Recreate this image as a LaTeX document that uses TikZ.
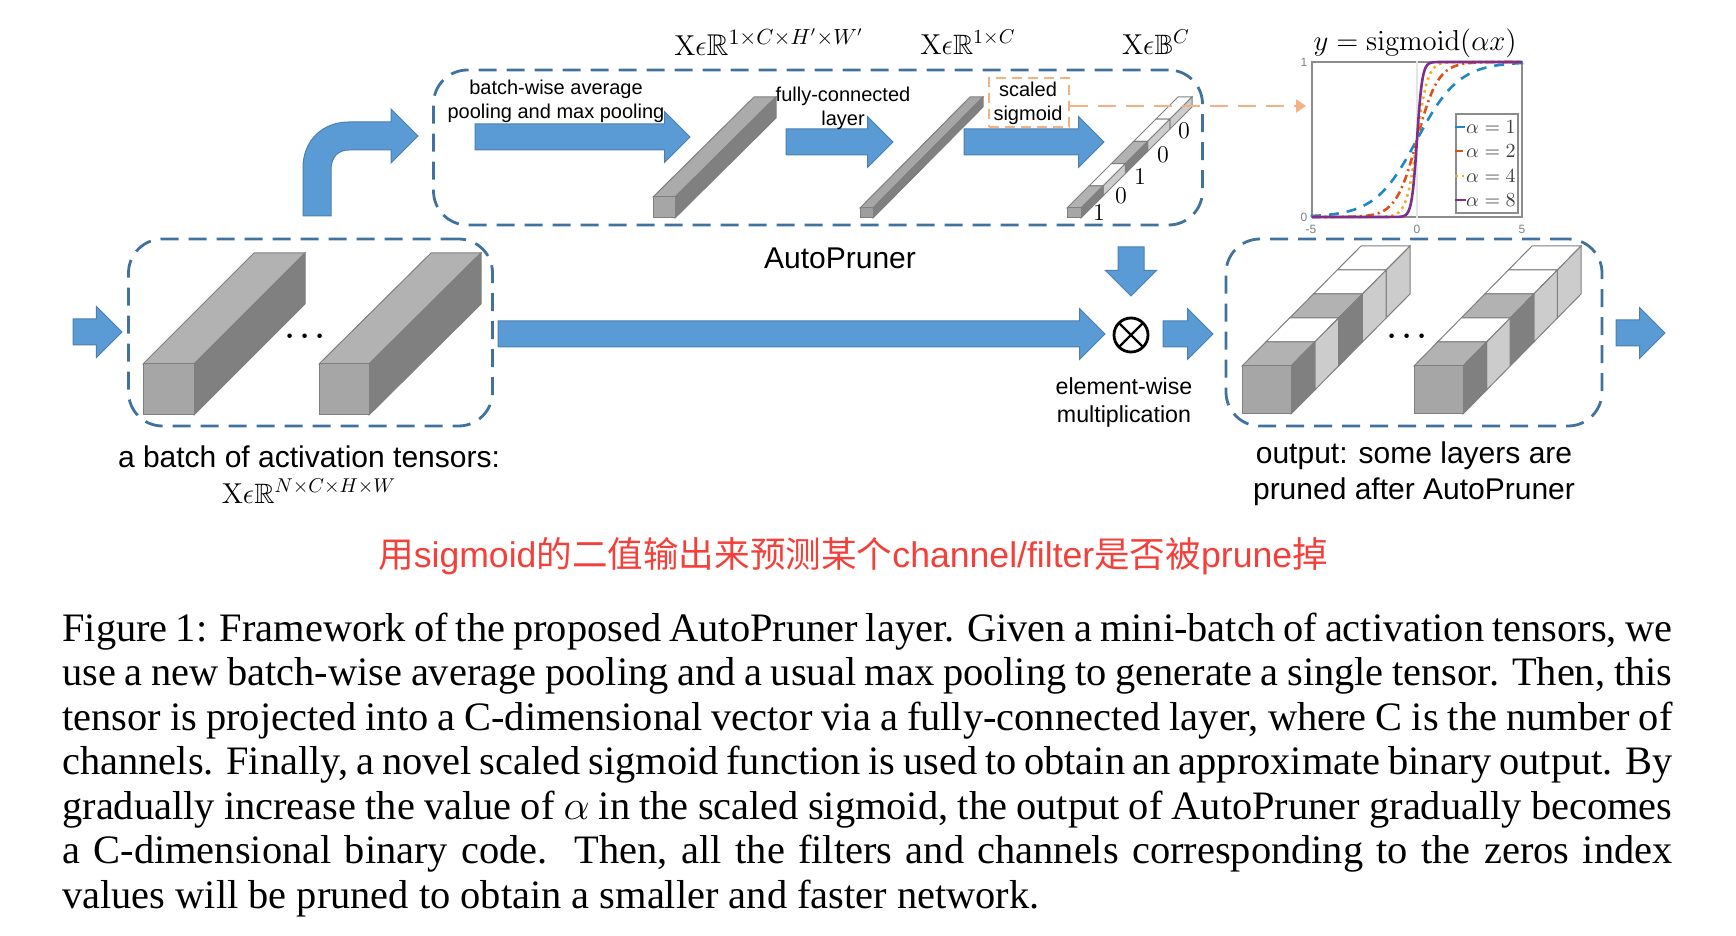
\documentclass[tikz,border=0pt]{standalone}
\usepackage[no-math]{fontspec}
\usepackage{amsmath,amssymb}
\usetikzlibrary{shapes.arrows,arrows.meta}
\setmainfont{Liberation Sans}
\newfontfamily\capfont{Liberation Serif}
\newfontfamily\cjk{Noto Sans CJK SC}
\definecolor{fatblue}{HTML}{5B9BD5}
\definecolor{fatedge}{HTML}{4A7FAE}
\definecolor{dashblue}{HTML}{41719C}
\definecolor{dashorange}{HTML}{F4B183}
\definecolor{edgegray}{HTML}{7F7F7F}
\definecolor{framegray}{HTML}{8C8C8C}
\definecolor{redtext}{HTML}{F4403A}
\definecolor{curveblue}{HTML}{1F86C8}
\definecolor{curvered}{HTML}{D95319}
\definecolor{curveyellow}{HTML}{EDB120}
\definecolor{curvepurple}{HTML}{7E2F8E}
\tikzset{
	fatarrow/.style={single arrow,draw=fatedge,fill=fatblue,line width=.5pt,inner xsep=0pt,inner ysep=6.25pt,single arrow head extend=6.25pt,minimum height=#1*0.5pt,anchor=tip,outer sep=0pt},
	dashbox/.style={draw=dashblue,line width=1.4pt,dash pattern=on 9pt off 5pt,rounded corners=17pt,inner sep=0pt},
	sidetext/.style={align=center,font=\fontsize{10}{12}\selectfont},
	bigtext/.style={align=center,font=\fontsize{15}{18}\selectfont},
	mathtext/.style={font=\fontsize{14}{16}\selectfont},
	digit/.style={font=\fontsize{13}{15}\selectfont},
	dotsmark/.style={font=\fontsize{14}{16}\selectfont\boldmath},
	tick/.style={text=gray,font=\fontsize{6}{7}\selectfont},
	capline/.style={anchor=base west,inner sep=0pt,font=\capfont\fontsize{20.2}{22}\selectfont},
	curve1/.style={curveblue,dash pattern=on 5pt off 4pt},
	curve2/.style={curvered,dash pattern=on 4pt off 2pt on 1pt off 2pt},
	curve4/.style={curveyellow,dotted},
	curve8/.style={curvepurple}
}
% #1,#2 front lower left  #3,#4 front size  #5,#6 depth  #7,#8 front and top fill
\newcommand{\solidblock}[8]{
	\draw[edgegray,line width=.5pt,fill=#8] (#1,#2-#4) -- (#1+#3,#2-#4) -- (#1+#3+#5,#2-#4-#6) -- (#1+#5,#2-#4-#6) -- cycle;
	\draw[edgegray,line width=.5pt,fill=black!50] (#1+#3,#2-#4) -- (#1+#3,#2) -- (#1+#3+#5,#2-#6) -- (#1+#3+#5,#2-#4-#6) -- cycle;
	\draw[edgegray,line width=.5pt,fill=#7] (#1,#2-#4) rectangle (#1+#3,#2);
}
\newcommand{\segblock}[6]{
	\foreach \k/\topfill/\sidefill in {4/white/black!20,3/white/black!20,2/black!30/black!50,1/white/black!20,0/black!30/black!50}{
		\draw[edgegray,line width=.5pt,fill=\topfill] (#1+\k*#5/5,#2-#4-\k*#6/5) -- (#1+#3+\k*#5/5,#2-#4-\k*#6/5) -- (#1+#3+\k*#5/5+#5/5,#2-#4-\k*#6/5-#6/5) -- (#1+\k*#5/5+#5/5,#2-#4-\k*#6/5-#6/5) -- cycle;
		\draw[edgegray,line width=.5pt,fill=\sidefill] (#1+#3+\k*#5/5,#2-#4-\k*#6/5) -- (#1+#3+\k*#5/5,#2-\k*#6/5) -- (#1+#3+\k*#5/5+#5/5,#2-\k*#6/5-#6/5) -- (#1+#3+\k*#5/5+#5/5,#2-#4-\k*#6/5-#6/5) -- cycle;
	}
	\draw[edgegray,line width=.5pt,fill=black!35] (#1,#2-#4) rectangle (#1+#3,#2);
}
\begin{document}
\begin{tikzpicture}[x=0.5pt,y=-0.5pt]
	\useasboundingbox (0,0) rectangle (1736,936);
	% dashed frames
	\node[dashbox,minimum width=384.5pt,minimum height=77.5pt] (prunerbox) at (818,147.5) {};
	\node[dashbox,minimum width=182pt,minimum height=93.5pt] (inputbox) at (310.5,332.5) {};
	\node[dashbox,minimum width=188pt,minimum height=93.5pt] (outputbox) at (1414,332.5) {};
	% blocks
	\solidblock{143}{415}{51}{51}{111}{111}{black!35}{black!30}
	\solidblock{319}{415}{50}{51}{112}{111}{black!35}{black!30}
	\solidblock{653}{218}{22}{21}{101}{100}{black!35}{black!33}
	\solidblock{860}{218}{13}{10}{110}{111}{black!38}{black!35}
	\segblock{1067}{218}{14}{10}{111}{111}
	\segblock{1242}{414}{49}{48}{119}{120}
	\segblock{1414}{414}{49}{48}{118}{120}
	\node[dotsmark] (dotsa) at (308,337) {$\cdots$};
	\node[dotsmark] (dotsb) at (1410,337) {$\cdots$};
	% block arrows
	\node[fatarrow=49] (inarrow) at (122,332) {};
	\node[fatarrow=215] (poolarrow) at (690,137) {};
	\node[fatarrow=107] (fcarrow) at (893,142) {};
	\node[fatarrow=140] (sigarrow) at (1104,142) {};
	\node[fatarrow=607] (longarrow) at (1105,334) {};
	\node[fatarrow=49,rotate=-90] (downarrow) at (1131,296) {};
	\node[fatarrow=50] (midarrow) at (1213,334) {};
	\node[fatarrow=49] (outarrow) at (1665,333) {};
	\draw[draw=fatedge,fill=fatblue,line width=.5pt] (303,216) -- (303,168) .. controls (303,140) and (323,122) .. (349,122) -- (391,122) -- (391,109) -- (418,136) -- (391,163) -- (391,150) -- (349,150) .. controls (338,150) and (331,157) .. (331,170) -- (331,216) -- cycle;
	% multiply
	\node[circle,draw,line width=1.4pt,minimum size=17pt,inner sep=0pt,path picture={\draw[line width=1.2pt] (path picture bounding box.north west) -- (path picture bounding box.south east) (path picture bounding box.north east) -- (path picture bounding box.south west);}] (mult) at (1131,335) {};
	% texts
	\node[sidetext] (pooltext) at (556,101) {batch-wise average\\pooling and max pooling};
	\node[sidetext] (fctext) at (843,108) {fully-connected\\layer};
	\node[sidetext] (sigtext) at (1028,103) {scaled\\sigmoid};
	\node[draw=dashorange,line width=1.2pt,dash pattern=on 5pt off 3pt,minimum width=40pt,minimum height=24.5pt,inner sep=0pt] (sigbox) at (1029,102.5) {};
	\node[bigtext] (prunername) at (840,258) {AutoPruner};
	\node[align=center,font=\fontsize{11.6}{14}\selectfont] (multtext) at (1124,403) {element-wise\\multiplication};
	\node[bigtext] (intext) at (309,457) {a batch of activation tensors:};
	\node[bigtext] (outtext) at (1414,474) {output: some layers are\\pruned after AutoPruner};
	\node[mathtext] (xin) at (309,491) {$\mathrm{X}\epsilon\mathbb{R}^{N\times C\times H\times W}$};
	\node[font=\fontsize{15}{16}\selectfont] (xpool) at (769,42) {$\mathrm{X}\epsilon\mathbb{R}^{1\times C\times H'\times W'}$};
	\node[mathtext] (xfc) at (968,42) {$\mathrm{X}\epsilon\mathbb{R}^{1\times C}$};
	\node[mathtext] (xbin) at (1156,42) {$\mathrm{X}\epsilon\mathbb{B}^{C}$};
	\node[digit] (bita) at (1099,213) {$1$};
	\node[digit] (bitb) at (1121,196) {$0$};
	\node[digit] (bitc) at (1140,177) {$1$};
	\node[digit] (bitd) at (1163,155) {$0$};
	\node[digit] (bite) at (1184,131) {$0$};
	% sigmoid plot
	\node[draw=framegray,line width=1pt,minimum width=105pt,minimum height=77.5pt,inner sep=0pt] (plotbox) at (1417,139.5) {};
	\draw[black!10,line width=.6pt] (plotbox.south) -- (plotbox.north);
	\foreach \a/\lim in {1/5,2/4,4/2,8/1}{
		\draw[line width=1.3pt,style/.expanded={curve\a}] (1312,217) -- plot[domain=-\lim:\lim,samples=60,smooth] ({1417+21*\x},{217-155/(1+exp(-\a*\x))}) -- (1522,62);
	}
	\node[draw=framegray,line width=.8pt,minimum width=31pt,minimum height=49.5pt,inner sep=0pt,fill=white] (legendbox) at (1487,163.5) {};
	\foreach \ya/\a in {127/1,151/2,176/4,200/8}{
		\node[text=black!75,inner sep=0pt,font=\fontsize{10}{12}\selectfont] (alpha\a) at (1491,\ya) {$\alpha=\a$};
		\draw[line width=1.2pt,style/.expanded={curve\a}] (legendbox.west |- alpha\a) -- (alpha\a.west);
	}
	\node[tick] (ylow) at (1304,217) {0};
	\node[tick] (yhigh) at (1304,62) {1};
	\node[tick] (xlow) at (1311,229) {-5};
	\node[tick] (xmid) at (1417,229) {0};
	\node[tick] (xhigh) at (1522,229) {5};
	\node[font=\fontsize{15.2}{18}\selectfont] (plottitle) at (1415,43) {$y=\mathrm{sigmoid}(\alpha x)$};
	% link to plot
	\coordinate (dashend) at (1306,106);
	\draw[dashorange,line width=1.4pt,dash pattern=on 9pt off 5pt,-{Triangle[length=5pt,width=6.5pt]}] (sigbox.east |- dashend) -- (dashend);
	% red remark
	\node[text=redtext,inner sep=0pt,font=\fontsize{17.8}{20}\selectfont] (remark) at (853,556) {{\cjk 用}sigmoid{\cjk 的二值输出来预测某个}channel/filter{\cjk 是否被}prune{\cjk 掉}};
	% caption
	\node[capline] (capa) at (62,641) {\makebox[805pt][s]{Figure 1: Framework of the proposed AutoPruner layer. Given a mini-batch of activation tensors, we}};
	\node[capline] (capb) at (62,685.5) {\makebox[805pt][s]{use a new batch-wise average pooling and a usual max pooling to generate a single tensor. Then, this}};
	\node[capline] (capc) at (62,730) {\makebox[805pt][s]{tensor is projected into a C-dimensional vector via a fully-connected layer, where C is the number of}};
	\node[capline] (capd) at (62,774.5) {\makebox[805pt][s]{channels. Finally, a novel scaled sigmoid function is used to obtain an approximate binary output. By}};
	\node[capline] (cape) at (62,819) {\makebox[805pt][s]{gradually increase the value of $\alpha$ in the scaled sigmoid, the output of AutoPruner gradually becomes}};
	\node[capline] (capf) at (62,863.5) {\makebox[805pt][s]{a C-dimensional binary code.\ \ Then, all the filters and channels corresponding to the zeros index}};
	\node[capline] (capg) at (62,908) {values will be pruned to obtain a smaller and faster network.};
\end{tikzpicture}
\end{document}
